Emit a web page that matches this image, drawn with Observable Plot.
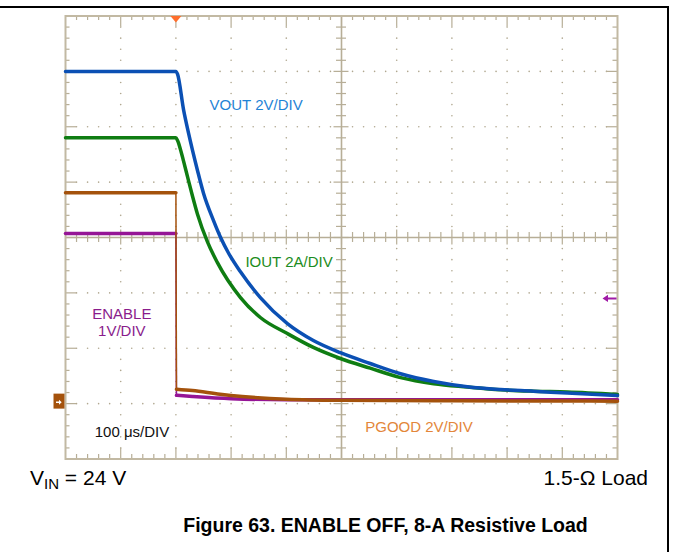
<!DOCTYPE html>
<html>
<head>
<meta charset="utf-8">
<script src="https://cdn.jsdelivr.net/npm/d3@7"></script>
<script src="https://cdn.jsdelivr.net/npm/@observablehq/plot@0.6"></script>
<style>
  body { margin: 0; background: #fff; }
  #page { position: relative; width: 673px; height: 552px; overflow: hidden;
          font-family: "Liberation Sans", Arial, sans-serif; background: #fff; }
  #chart { position: absolute; left: 0; top: 0; }
  .line-top { position: absolute; left: 0; top: 6px; width: 669px; height: 2px; background: #000; }
  .line-right { position: absolute; left: 667px; top: 6px; width: 2px; height: 546px; background: #000; }
  .note { position: absolute; font-size: 21px; line-height: 21px; color: #000; white-space: nowrap; }
  .note sub { font-size: 15px; vertical-align: -4px; line-height: 0; }
  .caption { position: absolute; left: 0; width: 771px; text-align: center; font-weight: bold;
             font-size: 19.5px; line-height: 19.5px; color: #000; white-space: nowrap; }
</style>
</head>
<body>
<div id="page">
  <div class="line-top"></div>
  <div class="line-right"></div>
  <div id="chart"></div>
  <div class="note" style="left:30px; top:467px;">V<sub>IN</sub> = 24 V</div>
  <div class="note" style="right:25px; top:467px;">1.5-Ω Load</div>
  <div class="caption" style="top:516px;">Figure 63. ENABLE OFF, 8-A Resistive Load</div>
</div>
<script>
// ---------------- data ----------------
// time in µs relative to trigger (100 µs/DIV), values in channel units
const channels   = ["VOUT", "IOUT", "ENABLE", "PGOOD"];
const unitsPerDiv = [2, 2, 1, 2];         // 2V/DIV, 2A/DIV, 1V/DIV, 2V/DIV
const groundDiv  = -3;                    // ground reference (divisions from centre)

const voutT = [-200, 0, 3, 14, 23, 39, 50, 68, 81, 95, 117, 153, 202, 249, 298, 352, 407, 467, 528, 588, 648, 709, 800];
const voutV = [12.0, 12.0, 11.9, 10.6, 9.76, 8.43, 7.6, 6.62, 6.0, 5.45, 4.76, 3.83, 2.89, 2.28, 1.84, 1.45, 1.08, 0.80, 0.61, 0.51, 0.45, 0.38, 0.29];

const ioutT = [-200, 0, 3, 8, 14, 21, 30, 39, 57, 75, 117, 153, 202, 249, 298, 352, 407, 467, 528, 588, 648, 709, 800];
const ioutA = [9.6, 9.6, 9.5, 9.2, 8.75, 8.2, 7.5, 6.85, 5.85, 5.1, 3.83, 3.11, 2.53, 2.03, 1.63, 1.28, 0.94, 0.72, 0.60, 0.50, 0.45, 0.42, 0.33];

const enableT = [-200, 0, 1, 30, 100, 200, 800];
const enableV = [3.07, 3.07, 0.15, 0.13, 0.09, 0.07, 0.07];

const pgoodT = [-200, 0, 1, 30, 80, 120, 200, 300, 500, 800];
const pgoodV = [7.62, 7.62, 0.52, 0.47, 0.34, 0.26, 0.16, 0.12, 0.10, 0.09];

const triggerT = 0;          // trigger position
const enableTrigLevelV = 1.9; // ENABLE trigger level marker

// ---------------- layout ----------------
const W = 673, H = 470, mL = 65, mR = 56, mT = 15.5, mB = 11.5;
const X0 = -200, X1 = 800, Y0 = -4, Y1 = 4;
const pxX = (W - mL - mR) / 10;   // px per division (x)
const pxY = (H - mT - mB) / 8;    // px per division (y)
const usPx = 100 / pxX;           // µs per px
const divPx = 1 / pxY;            // div per px

const toDiv = (v, ch) => v / unitsPerDiv[channels.indexOf(ch)] + groundDiv;
const rows = (T, V, ch) => T.map((t, i) => ({t, d: toDiv(V[i], ch)}));
const split = (T, V, ch) => {
  const r = rows(T, V, ch);
  const k = T.findIndex((t, i) => i > 0 && V[i] < V[i - 1] * 0.5);
  return {pre: r.slice(0, k), post: r.slice(k), jump: [{a: r[k - 1], b: r[k]}]};
};

const vout = rows(voutT, voutV, "VOUT");
const iout = rows(ioutT, ioutA, "IOUT");
const en = split(enableT, enableV, "ENABLE");
const pg = split(pgoodT, pgoodV, "PGOOD");

// ---------------- graticule ----------------
const minorX = d3.range(0, 51).map(i => X0 + i * 20);
const minorY = d3.range(0, 41).map(i => +(Y0 + i * 0.2).toFixed(2));
const majX = t => (t - X0) % 100 === 0;
const majY = y => Math.abs(y - Math.round(y)) < 1e-6;
const innerX = minorX.filter(t => t !== X0 && t !== X1);
const innerY = minorY.filter(y => y !== Y0 && y !== Y1);
const gridXs = d3.range(-100, 800, 100).filter(t => t !== 300);
const gridYs = [-3, -2, -1, 1, 2, 3];
const dots = [];
for (const gx of gridXs) for (const y of innerY) if (y !== 0) dots.push({t: gx, d: y});
for (const gy of gridYs) for (const t of innerX) if (t !== 300 && !gridXs.includes(t)) dots.push({t, d: gy});

const grat = "#b7ae97";
const tickLen = (maj) => maj ? 11 : 4.5;
const crossLen = (maj) => maj ? 7.5 : 5;

// custom symbols
const triDown = {draw(c) { c.moveTo(-5.5, 0); c.lineTo(5.5, 0); c.lineTo(0, 6.5); c.closePath(); }};
const gndBox = {draw(c) { c.rect(-12, -10, 11, 15); }};
const gndArrow = {draw(c) {
  c.moveTo(-9.5, -2.1); c.lineTo(-6.5, -2.1); c.lineTo(-6.5, -3.8); c.lineTo(-3.8, -1.4);
  c.lineTo(-6.5, 1.0); c.lineTo(-6.5, -0.7); c.lineTo(-9.5, -0.7); c.closePath(); }};
const leftArrow = {draw(c) {
  c.moveTo(-15, 0); c.lineTo(-9.5, -3.6); c.lineTo(-9.5, -1); c.lineTo(-1, -1);
  c.lineTo(-1, 1); c.lineTo(-9.5, 1); c.lineTo(-9.5, 3.6); c.closePath(); }};

const colors = {VOUT: "#0b50b4", IOUT: "#0f7d12", ENABLE: "#951596", PGOOD: "#a4520c"};
const font = "'Liberation Sans', Arial, sans-serif";

const plot = Plot.plot({
  width: W, height: H,
  marginLeft: mL, marginRight: mR, marginTop: mT, marginBottom: mB,
  x: {domain: [X0, X1], axis: null},
  y: {domain: [Y0, Y1], axis: null},
  style: {fontFamily: font, background: "transparent"},
  marks: [
    // dotted grid
    Plot.dot(dots, {x: "t", y: "d", r: 0.8, fill: "#b0a78f", stroke: null}),
    // centre cross
    Plot.ruleY([0], {stroke: grat, strokeWidth: 1.6}),
    Plot.ruleX([300], {stroke: grat, strokeWidth: 1.6}),
    Plot.ruleX(innerX, {x: d => d, y1: d => -crossLen(majX(d)) * divPx, y2: d => crossLen(majX(d)) * divPx, stroke: grat, strokeWidth: 1.2}),
    Plot.ruleY(innerY, {y: d => d, x1: d => 300 - crossLen(majY(d)) * usPx, x2: d => 300 + crossLen(majY(d)) * usPx, stroke: grat, strokeWidth: 1.2}),
    // border ticks
    Plot.ruleX(innerX, {x: d => d, y1: Y1, y2: d => Y1 - tickLen(majX(d)) * divPx, stroke: grat, strokeWidth: 1.2}),
    Plot.ruleX(innerX, {x: d => d, y1: Y0, y2: d => Y0 + tickLen(majX(d)) * divPx, stroke: grat, strokeWidth: 1.2}),
    Plot.ruleY(innerY, {y: d => d, x1: X0, x2: d => X0 + tickLen(majY(d)) * usPx, stroke: grat, strokeWidth: 1.2}),
    Plot.ruleY(innerY, {y: d => d, x1: X1, x2: d => X1 - tickLen(majY(d)) * usPx, stroke: grat, strokeWidth: 1.2}),
    Plot.frame({stroke: "#c2b9a3", strokeWidth: 2}),

    // traces
    Plot.line(en.pre, {x: "t", y: "d", stroke: colors.ENABLE, strokeWidth: 3.5}),
    Plot.line(en.post, {x: "t", y: "d", stroke: colors.ENABLE, strokeWidth: 3.5, curve: "monotone-x"}),
    Plot.link(en.jump, {x1: d => d.a.t, y1: d => d.a.d, x2: d => d.b.t, y2: d => d.b.d, stroke: colors.ENABLE, strokeWidth: 1.5}),
    Plot.line(iout, {x: "t", y: "d", stroke: colors.IOUT, strokeWidth: 3.5, curve: "monotone-x"}),
    Plot.line(vout, {x: "t", y: "d", stroke: colors.VOUT, strokeWidth: 3.5, curve: "monotone-x"}),
    Plot.line(pg.pre, {x: "t", y: "d", stroke: colors.PGOOD, strokeWidth: 3.5}),
    Plot.line(pg.post, {x: "t", y: "d", stroke: colors.PGOOD, strokeWidth: 3.5, curve: "monotone-x"}),
    Plot.link(pg.jump, {x1: d => d.a.t, y1: d => d.a.d, x2: d => d.b.t, y2: d => d.b.d, stroke: colors.PGOOD, strokeWidth: 1.5}),

    // markers
    Plot.dot([triggerT], {x: d => d, y: Y1, symbol: triDown, fill: "#ff6e2c", stroke: null}),
    Plot.dot([groundDiv], {x: X0, y: d => d, symbol: gndBox, fill: colors.PGOOD, stroke: null}),
    Plot.dot([groundDiv], {x: X0, y: d => d, symbol: gndArrow, fill: "#ffffff", stroke: null}),
    Plot.dot([enableTrigLevelV], {x: X1, y: d => toDiv(d, "ENABLE"), symbol: leftArrow, fill: "#a01aa6", stroke: null}),

    // channel labels
    Plot.text(["VOUT 2V/DIV"], {x: 61, y: 2.39, text: d => d, textAnchor: "start", lineAnchor: "middle", fontSize: 15, fill: "#1f84d6"}),
    Plot.text(["IOUT 2A/DIV"], {x: 126, y: -0.44, text: d => d, textAnchor: "start", lineAnchor: "middle", fontSize: 15, fill: "#1b8c21"}),
    Plot.text(["ENABLE\n1V/DIV"], {x: -98, y: -1.535, text: d => d, textAnchor: "middle", lineAnchor: "middle", lineHeight: 1.13, fontSize: 15, fill: "#8a1c8c"}),
    Plot.text(["100 μs/DIV"], {x: -147, y: -3.52, text: d => d, textAnchor: "start", lineAnchor: "middle", fontSize: 15, fill: "#111"}),
    Plot.text(["PGOOD 2V/DIV"], {x: 343, y: -3.43, text: d => d, textAnchor: "start", lineAnchor: "middle", fontSize: 15, fill: "#e3863a"})
  ]
});
document.getElementById("chart").appendChild(plot);
</script>
</body>
</html>
